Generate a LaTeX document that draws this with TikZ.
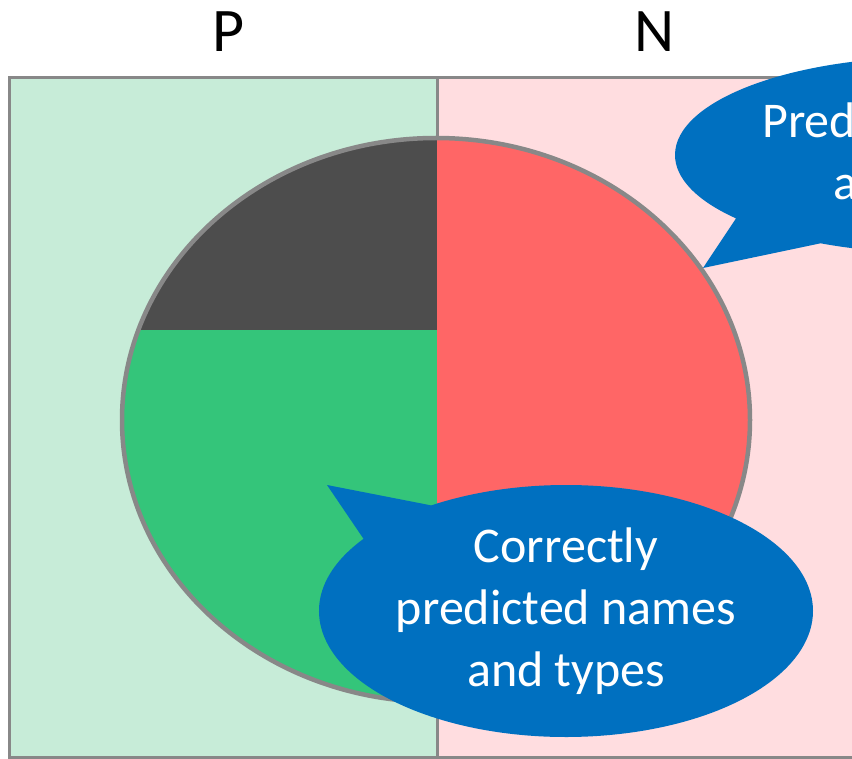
\documentclass[tikz,border=0pt]{standalone}
\usepackage{fontspec}
\setmainfont{Carlito}
\usepackage{tikz}
\usetikzlibrary{shapes.callouts,positioning}
\definecolor{posfill}{RGB}{199,236,216}
\definecolor{negfill}{RGB}{255,221,224}
\definecolor{frame}{RGB}{136,136,136}
\definecolor{darkpart}{RGB}{77,77,77}
\definecolor{greenpart}{RGB}{52,197,122}
\definecolor{redpart}{RGB}{255,102,102}
\definecolor{bubblefill}{RGB}{0,112,192}

\begin{document}
\begin{tikzpicture}[x=1pt,y=-1pt,
	box/.style={draw=frame,line width=3pt},
	bubble/.style={ellipse callout,fill=bubblefill,text=white,inner sep=0pt,align=center,
		font=\fontsize{50}{62}\selectfont}]
	\clip (0,0) rectangle (852,759);
	% the two halves: P and N
	\draw[box,fill=posfill] (9,78) rectangle (437,757);
	\draw[box,fill=negfill] (437,78) rectangle (880,757);
	\node[font=\fontsize{62}{74}\selectfont] (p) at (229,32) {P};
	\node[font=\fontsize{62}{74}\selectfont] (n) at (655,32) {N};
	% the pie
	\coordinate (c) at (436,420);
	\fill[redpart] (c) ellipse [x radius=314pt,y radius=282pt];
	\begin{scope}
		\clip (c) ellipse [x radius=314pt,y radius=282pt];
		\fill[greenpart] (100,330) rectangle (437,720);
		\fill[darkpart] (100,100) rectangle (437,330);
	\end{scope}
	\draw[frame,line width=4.5pt] (c) ellipse [x radius=314pt,y radius=282pt];
	% callouts
	\node[bubble,minimum width=514pt,minimum height=196pt,
		callout absolute pointer={(703,268)},callout pointer arc=24] (miss) at (932,155)
		{Predicted names\\and types};
	\node[bubble,minimum width=494pt,minimum height=252pt,
		callout absolute pointer={(327,485)},callout pointer arc=22] (hit) at (566,611)
		{Correctly\\predicted names\\and types};
\end{tikzpicture}
\end{document}
